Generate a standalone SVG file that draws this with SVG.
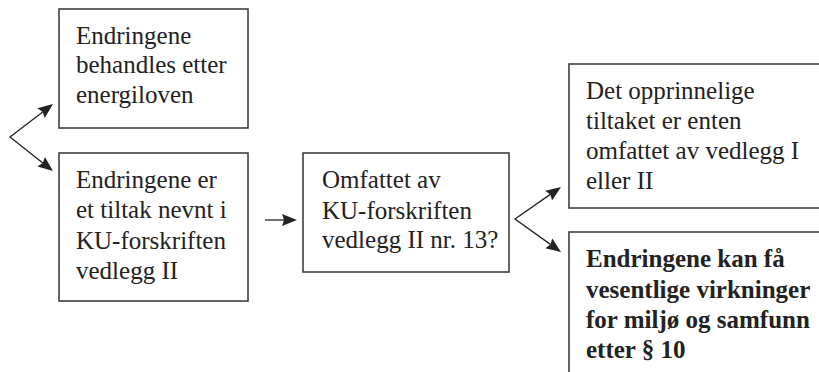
<svg xmlns="http://www.w3.org/2000/svg" width="819" height="372" viewBox="0 0 819 372">
<style>
.box{fill:#fff;stroke:#333;stroke-width:1.5}
.t{font-family:"Liberation Serif","Times New Roman",serif;font-size:25px;fill:#222}
.b{font-weight:bold}
.c{fill:none;stroke:#222;stroke-width:1.3}
.h{fill:#222;stroke:none}
</style>
<rect width="819" height="372" fill="#fff"/>
<g id="n1">
<rect class="box" x="59" y="9" width="189" height="119"/>
<text class="t"><tspan x="76" y="44">Endringene</tspan><tspan x="76" y="73">behandles etter</tspan><tspan x="76" y="103">energiloven</tspan></text>
</g>
<g id="n2">
<rect class="box" x="59" y="153" width="189" height="148"/>
<text class="t"><tspan x="76" y="188">Endringene er</tspan><tspan x="76" y="218">et tiltak nevnt i</tspan><tspan x="76" y="249">KU-forskriften</tspan><tspan x="76" y="279">vedlegg II</tspan></text>
</g>
<g id="n3">
<rect class="box" x="303" y="153" width="206" height="119"/>
<text class="t"><tspan x="322" y="188">Omfattet av</tspan><tspan x="322" y="219">KU-forskriften</tspan><tspan x="322" y="248">vedlegg II nr. 13?</tspan></text>
</g>
<g id="n4">
<rect class="box" x="569" y="64" width="260" height="144"/>
<text class="t"><tspan x="586" y="99">Det opprinnelige</tspan><tspan x="586" y="129">tiltaket er enten</tspan><tspan x="586" y="159">omfattet av vedlegg I</tspan><tspan x="586" y="189">eller II</tspan></text>
</g>
<g id="n5">
<rect class="box" x="569" y="232" width="260" height="150"/>
<text class="t b"><tspan x="586" y="267">Endringene kan få</tspan><tspan x="586" y="298">vesentlige virkninger</tspan><tspan x="586" y="328">for miljø og samfunn</tspan><tspan x="586" y="358">etter § 10</tspan></text>
</g>
<g id="connectors">
<path class="c" d="M42.7,111.9 L10,137 L42.8,162.9"/>
<polygon class="h" points="53,104 44.7,117.9 42.7,111.9 37.4,108.3"/>
<polygon class="h" points="53,171 37.5,166.4 42.8,162.9 44.9,157"/>
<path class="c" d="M265,220 L284,220"/>
<polygon class="h" points="297,220 282,226 284,220 282,214"/>
<path class="c" d="M550.3,194.4 L515,219 L550.4,244.4"/>
<polygon class="h" points="561,187 552.1,200.5 550.3,194.4 545.3,190.7"/>
<polygon class="h" points="561,252 545.3,248.2 550.4,244.4 552.3,238.4"/>
</g>
</svg>
